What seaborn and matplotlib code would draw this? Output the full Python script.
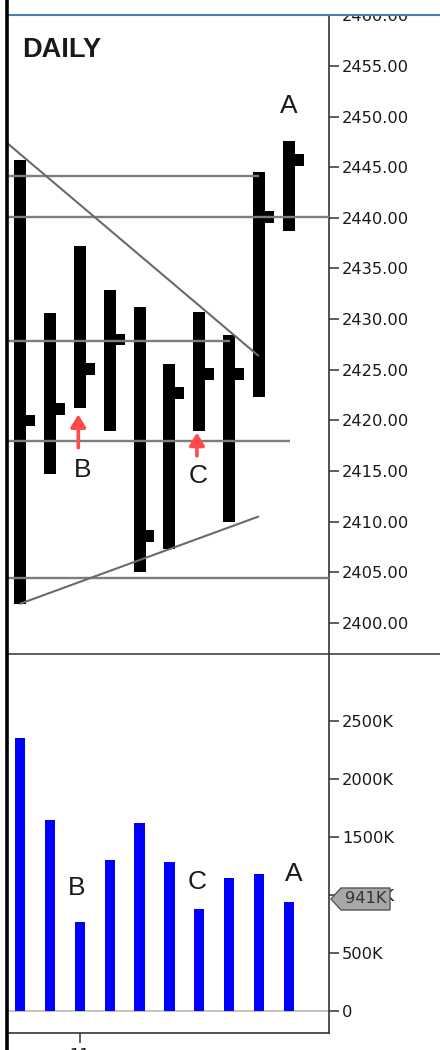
import numpy as np
import pandas as pd
import matplotlib
matplotlib.use("Agg")
import matplotlib.pyplot as plt
import matplotlib.transforms as mtransforms
from matplotlib.lines import Line2D
from matplotlib.patches import Rectangle, Polygon
import seaborn as sns

# ---------------- data ----------------
days = list(range(10))
highs = [2445.7, 2430.6, 2437.2, 2432.9, 2431.2, 2425.6, 2430.7, 2428.4, 2444.5, 2447.6]
lows = [2401.9, 2414.7, 2421.2, 2419.0, 2405.0, 2407.3, 2419.0, 2410.0, 2422.3, 2438.7]
closes = [2420.0, 2421.1, 2425.1, 2428.0, 2408.6, 2422.7, 2424.6, 2424.6, 2440.1, 2445.7]
volumes = [2357000, 1647000, 769000, 1301000, 1618000, 1284000, 876000, 1146000, 1178000, 941000]

price_ticks = [2400, 2405, 2410, 2415, 2420, 2425, 2430, 2435, 2440, 2445, 2450, 2455, 2460]
volume_ticks = [0, 500000, 1000000, 1500000, 2000000, 2500000]
volume_tick_labels = ["0", "500K", "1000K", "1500K", "2000K", "2500K"]
last_volume_label = "941K"
x_tick_day = [2]
x_tick_labels = ["11"]

# support / resistance levels (price, end day index; None = full width)
levels = [2444.1, 2440.1, 2427.8, 2418.0, 2404.4]
level_ends = [8.0, None, 7.03, 9.04, None]
# trend lines ((x0, y0), (x1, y1)) in day index / price
trend_down = [(-0.40, 2447.3), (7.97, 2426.4)]
trend_up = [(0.0, 2401.9), (7.97, 2410.5)]
# red arrows (day index, tail price, tip price)
arrows = [(1.95, 2417.3, 2420.6), (5.92, 2416.5, 2418.8)]
# letter labels
price_labels = [("A", 9.0, 2450.3), ("B", 2.08, 2414.4), ("C", 5.97, 2413.8)]
volume_labels = [("B", 1.91, 999000), ("C", 5.92, 1048000), ("A", 9.17, 1123000)]

# ---------------- style ----------------
sns.set_theme(style="white")
plt.rcParams["font.family"] = ["DejaVu Sans"]

W, H = 440, 1050
fig = plt.figure(figsize=(W / 100, H / 100), dpi=100)
fig.patch.set_facecolor("white")

ax_p = fig.add_axes([8 / W, (H - 653) / H, 321 / W, 638 / H])
ax_v = fig.add_axes([8 / W, (H - 1033) / H, 321 / W, 379 / H])

xmin, xmax = -0.402, 10.339
spine_col = "#333333"
tick_kw = dict(direction="out", length=7.2, width=1.1, color=spine_col,
               labelsize=11.7, pad=2.2, labelcolor="#1a1a1a")

# ---------------- price panel ----------------
x = np.array(days, dtype=float)
hi = np.array(highs)
lo = np.array(lows)
cl = np.array(closes)
bar_w = 0.40
tick_w = 0.30
tick_h = 1.15
ax_p.bar(x, hi - lo, bottom=lo, width=bar_w, color="black", zorder=2, linewidth=0)
ax_p.bar(x + bar_w / 2 + tick_w / 2, tick_h, bottom=cl - tick_h / 2, width=tick_w,
         color="black", zorder=2, linewidth=0)

for lev, end in zip(levels, level_ends):
    xe = xmax if end is None else end
    ax_p.plot([xmin, xe], [lev, lev], color="#7d7d7d", lw=1.7, zorder=3,
              solid_capstyle="butt")
for (a, b) in [trend_down, trend_up]:
    ax_p.plot([a[0], b[0]], [a[1], b[1]], color="#6a6a6a", lw=1.5, zorder=3)

for ax_x, y0, y1 in arrows:
    ax_p.annotate("", xy=(ax_x, y1), xytext=(ax_x, y0),
                  arrowprops=dict(arrowstyle="-|>,head_length=0.75,head_width=0.45",
                                  color="#ff4b4b", lw=2.6, shrinkA=0, shrinkB=0,
                                  mutation_scale=10), zorder=4)

for txt, lx, ly in price_labels:
    ax_p.text(lx, ly, txt, ha="center", va="baseline", fontsize=19,
              family="Liberation Sans", color="#1a1a1a", zorder=5)

ax_p.set_xlim(xmin, xmax)
ax_p.set_ylim(2397.04, 2460.02)
ax_p.yaxis.tick_right()
ax_p.set_yticks(price_ticks)
ax_p.set_yticklabels([f"{v:.2f}" for v in price_ticks])
ax_p.set_xticks([])
ax_p.tick_params(axis="y", which="both", left=False, right=True, **tick_kw)
for s in ["top", "bottom", "left"]:
    ax_p.spines[s].set_visible(False)
ax_p.spines["right"].set_color(spine_col)
ax_p.spines["right"].set_linewidth(1.2)
ax_p.set_facecolor("white")
ax_p.grid(False)

# ---------------- volume panel ----------------
vdf = pd.DataFrame({"day": days, "volume": volumes})
sns.barplot(data=vdf, x="day", y="volume", ax=ax_v, color="#0000ff",
            saturation=1, width=0.345, errorbar=None, linewidth=0, zorder=2)
ax_v.axhline(0, color="#b4b4b4", lw=1.1, zorder=1)
for txt, lx, ly in volume_labels:
    ax_v.text(lx, ly, txt, ha="center", va="baseline", fontsize=19,
              family="Liberation Sans", color="#1a1a1a", zorder=5)

ax_v.set_xlim(xmin, xmax)
ax_v.set_ylim(-193000, 3080000)
ax_v.yaxis.tick_right()
ax_v.set_yticks(volume_ticks)
ax_v.set_yticklabels(volume_tick_labels)
ax_v.set_xticks(x_tick_day)
ax_v.set_xticklabels(x_tick_labels)
ax_v.tick_params(axis="y", which="both", left=False, right=True, **tick_kw)
ax_v.tick_params(axis="x", which="both", bottom=True, **tick_kw)
ax_v.tick_params(axis="x", pad=3.5)
ax_v.set_xlabel("")
ax_v.set_ylabel("")
for s in ["top", "left"]:
    ax_v.spines[s].set_visible(False)
for s in ["right", "bottom"]:
    ax_v.spines[s].set_color(spine_col)
    ax_v.spines[s].set_linewidth(1.2)
ax_v.set_facecolor("white")
ax_v.grid(False)

# last-volume tag (drawn above the axis tick labels)
vt = mtransforms.offset_copy(ax_v.get_yaxis_transform(), fig=fig, x=0, y=2.7, units="dots")
last_v = volumes[-1]
hh = 95000
tag = Polygon([(1 + 2 / 321, last_v), (1 + 12 / 321, last_v + hh), (1 + 61 / 321, last_v + hh),
               (1 + 61 / 321, last_v - hh), (1 + 12 / 321, last_v - hh)],
              closed=True, transform=vt, facecolor="#a8a8a8", edgecolor="#555555",
              lw=1.0, clip_on=False, zorder=30)
fig.add_artist(tag)
tag_txt = fig.text(0, 0, last_volume_label, transform=vt, ha="center", va="center",
                   fontsize=11.7, color="#333333", zorder=31)
tag_txt.set_position((1 + 36.5 / 321, last_v))

# ---------------- frame decorations ----------------
fig.add_artist(Rectangle((0, 1 - 14 / H), 1, 14 / H, transform=fig.transFigure,
                         facecolor="white", edgecolor="none", zorder=20))
fig.add_artist(Line2D([8 / W, 1], [1 - 15 / H, 1 - 15 / H], transform=fig.transFigure,
                      color="#4a7ebb", lw=1.5, zorder=21))
fig.add_artist(Line2D([8 / W, 1], [1 - 654 / H, 1 - 654 / H], transform=fig.transFigure,
                      color=spine_col, lw=1.1, zorder=21))
fig.add_artist(Line2D([6.5 / W, 6.5 / W], [0, 1], transform=fig.transFigure,
                      color="black", lw=2.6, zorder=22))

fig.text(22 / W, 1 - 57 / H, "DAILY", fontsize=19.5, fontweight="bold",
         family="Liberation Sans", color="#1a1a1a", va="baseline", ha="left")

fig.savefig("out.png", dpi=100, facecolor="white")
